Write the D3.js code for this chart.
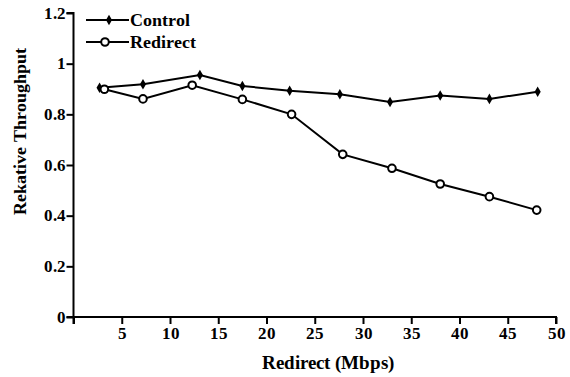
<!DOCTYPE html>
<html><head><script src="https://cdn.jsdelivr.net/npm/d3@7"></script>
<style>
  @font-face { font-family: "ChartSerif"; src: local("Liberation Serif Bold"), local("LiberationSerif-Bold"), local("Times New Roman Bold"); font-weight: bold; }
  #chart text { font-family: "ChartSerif", "Times New Roman", "Liberation Serif", serif !important; font-weight: bold; }
</style>
</head>
<body style="margin:0">
<svg id="chart" width="570" height="377" font-family="Times New Roman"></svg>
<script>
// ---- data ----
const controlX = [2.7, 7.2, 13.1, 17.5, 22.4, 27.6, 32.8, 38.0, 43.1, 48.1];
const controlY = [0.905, 0.919, 0.955, 0.912, 0.893, 0.879, 0.849, 0.874, 0.861, 0.889];
const redirectX = [3.2, 7.2, 12.3, 17.5, 22.6, 27.9, 33.0, 38.0, 43.1, 48.0];
const redirectY = [0.899, 0.861, 0.915, 0.859, 0.800, 0.642, 0.587, 0.525, 0.475, 0.422];
const xTicks = [0, 5, 10, 15, 20, 25, 30, 35, 40, 45, 50];
const yTicks = [0, 0.2, 0.4, 0.6, 0.8, 1, 1.2];
const seriesNames = ["Control", "Redirect"];
const xTitle = "Redirect (Mbps)";
const yTitle = "Rekative Throughput";

const FONT = "Times New Roman";

// ---- layout ----
const svg = d3.select("#chart").style("display", "block");
const x = d3.scaleLinear().domain([0, 50]).range([73.5, 556]);
const y = d3.scaleLinear().domain([0, 1.2]).range([317, 13]);

// axes
const xAxis = d3.axisBottom(x).tickValues(xTicks)
  .tickFormat(d => d === 0 ? "" : d).tickSize(7).tickPadding(3);
const yAxis = d3.axisLeft(y).tickValues(yTicks)
  .tickFormat(d => d3.format("~g")(d)).tickSize(7).tickPadding(1);

const gx = svg.append("g").attr("transform", `translate(0,${y(0)})`).call(xAxis);
const gy = svg.append("g").attr("transform", `translate(${x(0)},0)`).call(yAxis);
[gx, gy].forEach(g => {
  g.attr("font-family", FONT).attr("font-size", 16.5);
  g.select(".domain").attr("stroke", "#000").attr("stroke-width", 2);
  g.selectAll(".tick line").attr("stroke", "#000").attr("stroke-width", 2);
  g.selectAll(".tick text")
    .attr("font-family", FONT).attr("font-size", 16.5).attr("font-weight", "bold")
    .attr("fill", "#000");
});
gy.select(".domain").attr("d", `M-7,${y(1.2)}H0V${y(0)}H-7`);
gx.select(".domain").attr("d", `M${x(0)},7V0H${x(50)}V7`);

// axis titles
svg.append("text").attr("x", 328).attr("y", 369).attr("text-anchor", "middle")
  .attr("font-family", FONT).attr("font-size", 18.5).attr("font-weight", "bold")
  .text(xTitle);
svg.append("text").attr("transform", "translate(26,131) rotate(-90)")
  .attr("text-anchor", "middle")
  .attr("font-family", FONT).attr("font-size", 18).attr("font-weight", "bold")
  .text(yTitle);

// lines
const line = d3.line().x(d => x(d[0])).y(d => y(d[1]));
const control = controlX.map((v, i) => [v, controlY[i]]);
const redirect = redirectX.map((v, i) => [v, redirectY[i]]);

svg.append("path").datum(control).attr("d", line)
  .attr("fill", "none").attr("stroke", "#000").attr("stroke-width", 2);
svg.append("path").datum(redirect).attr("d", line)
  .attr("fill", "none").attr("stroke", "#000").attr("stroke-width", 2);

const diamond = d3.symbol().type(d3.symbolDiamond).size(32);
svg.selectAll(".cm").data(control).enter().append("path")
  .attr("d", diamond).attr("transform", d => `translate(${x(d[0])},${y(d[1])})`)
  .attr("fill", "#000");
svg.selectAll(".rm").data(redirect).enter().append("circle")
  .attr("cx", d => x(d[0])).attr("cy", d => y(d[1])).attr("r", 3.8)
  .attr("fill", "#fff").attr("stroke", "#000").attr("stroke-width", 2);

// legend
const legend = svg.append("g");
seriesNames.forEach((name, i) => {
  const ly = 20 + i * 22;
  legend.append("line").attr("x1", 86).attr("x2", 129).attr("y1", ly).attr("y2", ly)
    .attr("stroke", "#000").attr("stroke-width", 2);
  if (i === 0) {
    legend.append("path").attr("d", diamond).attr("transform", `translate(109,${ly})`).attr("fill", "#000");
  } else {
    legend.append("circle").attr("cx", 105).attr("cy", ly).attr("r", 3.8)
      .attr("fill", "#fff").attr("stroke", "#000").attr("stroke-width", 2);
  }
  legend.append("text").attr("x", 130).attr("y", ly + 6)
    .attr("font-family", FONT).attr("font-size", 18).attr("font-weight", "bold")
    .text(name);
});
</script>
</body>
</html>
